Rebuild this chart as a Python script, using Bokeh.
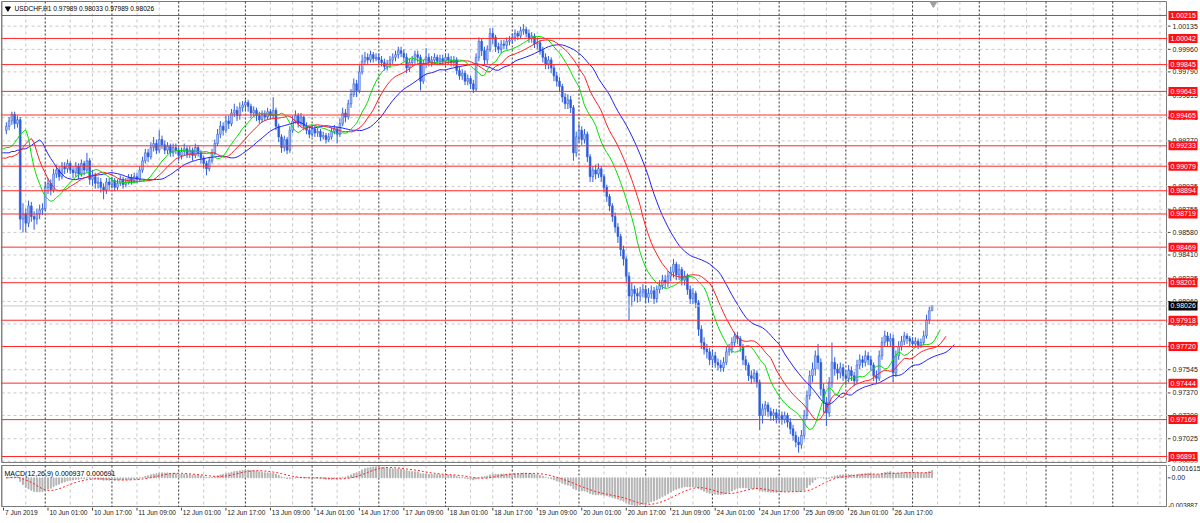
import numpy as np
from bokeh.plotting import figure
from bokeh.models import Range1d, Span, ColumnDataSource, Label, Spacer
from bokeh.layouts import column, row
from bokeh.embed import file_html
from bokeh.resources import INLINE
from bokeh.core.properties import value

symbol = "USDCHF,H1"
first_open = 0.9935

# hourly closes, 7 Jun 2019 10:00 ... 27 Jun 2019 07:00
close = [
    0.9938, 0.9942, 0.9947, 0.9940, 0.9943, 0.9868, 0.9872, 0.9865, 0.9878, 0.9870, 0.9868, 0.9872, 0.9875, 0.9876,
    0.9892, 0.9895, 0.9890, 0.9902, 0.9905, 0.9900, 0.9908, 0.9906, 0.9910, 0.9905, 0.9903, 0.9908, 0.9902, 0.9910, 0.9905, 0.9912, 0.9898, 0.9900, 0.9895, 0.9896, 0.9892, 0.9890, 0.9896, 0.9894,
    0.9897, 0.9892, 0.9895, 0.9898, 0.9894, 0.9896, 0.9899, 0.9897, 0.9900, 0.9898, 0.9905, 0.9912, 0.9918, 0.9915, 0.9922, 0.9925, 0.9920, 0.9928, 0.9924, 0.9920, 0.9923, 0.9918, 0.9922, 0.9920,
    0.9916, 0.9919, 0.9921, 0.9917, 0.9920, 0.9916, 0.9922, 0.9918, 0.9914, 0.9910, 0.9906, 0.9912, 0.9918, 0.9925, 0.9932, 0.9938, 0.9935, 0.9942, 0.9940, 0.9948, 0.9950, 0.9946, 0.9952, 0.9954,
    0.9956, 0.9953, 0.9948, 0.9950, 0.9946, 0.9943, 0.9947, 0.9945, 0.9949, 0.9946, 0.9950, 0.9938, 0.9930, 0.9922, 0.9928, 0.9920, 0.9935, 0.9942, 0.9946, 0.9940, 0.9945, 0.9938, 0.9935, 0.9932,
    0.9936, 0.9933, 0.9934, 0.9930, 0.9931, 0.9928, 0.9930, 0.9934, 0.9936, 0.9932, 0.9940, 0.9948, 0.9945, 0.9955, 0.9962, 0.9970, 0.9965, 0.9979, 0.9987, 0.9990, 0.9988, 0.9992, 0.9989, 0.9990,
    0.9988, 0.9986, 0.9983, 0.9985, 0.9988, 0.9990, 0.9992, 0.9995, 0.9993, 0.9990, 0.9982, 0.9986, 0.9988, 0.9992, 0.9990, 0.9972, 0.9985, 0.9990, 0.9986, 0.9988, 0.9990, 0.9987, 0.9989, 0.9987,
    0.9990, 0.9988, 0.9986, 0.9988, 0.9980, 0.9976, 0.9978, 0.9972, 0.9974, 0.9970, 0.9966, 0.9990, 1.0002, 0.9995, 0.9988, 0.9996, 1.0008, 1.0005, 0.9998, 0.9996, 1.0000, 0.9999, 1.0002, 1.0003,
    1.0005, 1.0008, 1.0006, 1.0010, 1.0011, 1.0008, 1.0004, 1.0006, 1.0000, 1.0001, 0.9995, 0.9990, 0.9985, 0.9988, 0.9982, 0.9976, 0.9972, 0.9968, 0.9960, 0.9955, 0.9958, 0.9952, 0.9918, 0.9930,
    0.9935, 0.9928, 0.9932, 0.9915, 0.9900, 0.9905, 0.9902, 0.9906, 0.9900, 0.9892, 0.9885, 0.9878, 0.9870, 0.9862, 0.9855, 0.9845, 0.9838, 0.9825, 0.9810, 0.9815, 0.9812, 0.9810, 0.9813, 0.9815,
    0.9809, 0.9812, 0.9814, 0.9808, 0.9815, 0.9818, 0.9822, 0.9820, 0.9825, 0.9828, 0.9834, 0.9826, 0.9830, 0.9822, 0.9825, 0.9815, 0.9808, 0.9812, 0.9805, 0.9785, 0.9775, 0.9770, 0.9768, 0.9762,
    0.9765, 0.9760, 0.9758, 0.9756, 0.9760, 0.9768, 0.9770, 0.9775, 0.9780, 0.9778, 0.9772, 0.9762, 0.9758, 0.9750, 0.9748, 0.9752, 0.9745, 0.9720, 0.9725, 0.9728, 0.9723, 0.9720, 0.9722, 0.9718,
    0.9720, 0.9717, 0.9720, 0.9715, 0.9710, 0.9705, 0.9700, 0.9698, 0.9705, 0.9720, 0.9735, 0.9750, 0.9755, 0.9765, 0.9760, 0.9740, 0.9730, 0.9722, 0.9745, 0.9760, 0.9755, 0.9752, 0.9756, 0.9750,
    0.9748, 0.9754, 0.9750, 0.9746, 0.9758, 0.9762, 0.9760, 0.9765, 0.9762, 0.9758, 0.9750, 0.9748, 0.9765, 0.9775, 0.9780, 0.9776, 0.9778, 0.9752, 0.9765, 0.9772, 0.9776, 0.9780, 0.9778, 0.9776,
    0.9774, 0.9776, 0.9773, 0.9775, 0.9780, 0.9792, 0.97989, 0.98026,
]
high = [
    0.9941, 0.9945, 0.9949, 0.9949, 0.9946, 0.9945, 0.9880, 0.9876, 0.9882, 0.9881, 0.9874, 0.9876, 0.9879, 0.9880,
    0.9896, 0.9899, 0.9898, 0.9906, 0.9909, 0.9908, 0.9911, 0.9911, 0.9913, 0.9912, 0.9908, 0.9911, 0.9910, 0.9913, 0.9912, 0.9918, 0.9914, 0.9905, 0.9903, 0.9900, 0.9899, 0.9895, 0.9899, 0.9899,
    0.9900, 0.9899, 0.9898, 0.9901, 0.9900, 0.9899, 0.9902, 0.9902, 0.9903, 0.9903, 0.9908, 0.9915, 0.9921, 0.9921, 0.9926, 0.9930, 0.9928, 0.9935, 0.9931, 0.9927, 0.9926, 0.9925, 0.9925, 0.9925,
    0.9922, 0.9922, 0.9925, 0.9923, 0.9923, 0.9922, 0.9925, 0.9924, 0.9920, 0.9916, 0.9912, 0.9915, 0.9921, 0.9928, 0.9936, 0.9942, 0.9941, 0.9946, 0.9946, 0.9951, 0.9955, 0.9953, 0.9956, 0.9957,
    0.9958, 0.9958, 0.9955, 0.9953, 0.9952, 0.9949, 0.9950, 0.9950, 0.9952, 0.9951, 0.9960, 0.9952, 0.9940, 0.9932, 0.9931, 0.9930, 0.9938, 0.9946, 0.9950, 0.9948, 0.9948, 0.9946, 0.9941, 0.9938,
    0.9939, 0.9939, 0.9937, 0.9936, 0.9934, 0.9933, 0.9933, 0.9937, 0.9939, 0.9938, 0.9944, 0.9952, 0.9951, 0.9958, 0.9966, 0.9974, 0.9973, 0.9984, 0.9992, 0.9994, 0.9993, 0.9995, 0.9994, 0.9993,
    0.9993, 0.9991, 0.9989, 0.9988, 0.9991, 0.9993, 0.9995, 0.9998, 0.9998, 0.9996, 0.9993, 0.9989, 0.9991, 0.9995, 0.9995, 0.9992, 0.9988, 0.9997, 0.9993, 0.9991, 0.9993, 0.9992, 0.9992, 0.9992,
    0.9993, 0.9993, 0.9991, 0.9991, 0.9990, 0.9983, 0.9981, 0.9980, 0.9977, 0.9976, 0.9973, 0.9993, 1.0005, 1.0004, 0.9998, 0.9999, 1.0012, 1.0012, 1.0007, 1.0001, 1.0003, 1.0003, 1.0005, 1.0006,
    1.0008, 1.0011, 1.0010, 1.0013, 1.0015, 1.0013, 1.0011, 1.0009, 1.0008, 1.0005, 1.0003, 0.9998, 0.9993, 0.9991, 0.9990, 0.9985, 0.9979, 0.9975, 0.9970, 0.9963, 0.9962, 0.9961, 0.9954, 0.9934,
    0.9940, 0.9938, 0.9936, 0.9934, 0.9917, 0.9908, 0.9909, 0.9910, 0.9908, 0.9902, 0.9894, 0.9887, 0.9880, 0.9873, 0.9865, 0.9857, 0.9848, 0.9840, 0.9828, 0.9820, 0.9818, 0.9816, 0.9817, 0.9819,
    0.9818, 0.9816, 0.9818, 0.9817, 0.9818, 0.9822, 0.9826, 0.9826, 0.9829, 0.9832, 0.9838, 0.9836, 0.9834, 0.9832, 0.9829, 0.9827, 0.9818, 0.9816, 0.9814, 0.9807, 0.9788, 0.9779, 0.9774, 0.9771,
    0.9769, 0.9768, 0.9763, 0.9762, 0.9764, 0.9772, 0.9774, 0.9779, 0.9783, 0.9783, 0.9780, 0.9774, 0.9765, 0.9760, 0.9754, 0.9755, 0.9754, 0.9747, 0.9729, 0.9731, 0.9730, 0.9726, 0.9725, 0.9725,
    0.9724, 0.9723, 0.9723, 0.9722, 0.9718, 0.9713, 0.9708, 0.9704, 0.9709, 0.9724, 0.9739, 0.9754, 0.9760, 0.9769, 0.9774, 0.9763, 0.9744, 0.9734, 0.9749, 0.9775, 0.9764, 0.9759, 0.9760, 0.9759,
    0.9754, 0.9758, 0.9757, 0.9753, 0.9762, 0.9766, 0.9765, 0.9769, 0.9768, 0.9765, 0.9760, 0.9754, 0.9769, 0.9779, 0.9784, 0.9783, 0.9782, 0.9781, 0.9769, 0.9776, 0.9780, 0.9783, 0.9782, 0.9780,
    0.9779, 0.9779, 0.9778, 0.9778, 0.9784, 0.9796, 0.9802, 0.98033,
]
low = [
    0.9932, 0.9935, 0.9939, 0.9936, 0.9937, 0.9860, 0.9858, 0.9858, 0.9862, 0.9866, 0.9860, 0.9864, 0.9868, 0.9871,
    0.9874, 0.9887, 0.9886, 0.9888, 0.9899, 0.9897, 0.9898, 0.9902, 0.9903, 0.9902, 0.9899, 0.9900, 0.9898, 0.9900, 0.9901, 0.9903, 0.9894, 0.9893, 0.9891, 0.9891, 0.9888, 0.9883, 0.9887, 0.9890,
    0.9891, 0.9889, 0.9890, 0.9893, 0.9891, 0.9892, 0.9894, 0.9894, 0.9895, 0.9895, 0.9896, 0.9903, 0.9910, 0.9911, 0.9913, 0.9919, 0.9917, 0.9918, 0.9921, 0.9917, 0.9917, 0.9915, 0.9915, 0.9917,
    0.9912, 0.9913, 0.9916, 0.9914, 0.9914, 0.9912, 0.9914, 0.9915, 0.9910, 0.9906, 0.9901, 0.9904, 0.9910, 0.9916, 0.9923, 0.9929, 0.9931, 0.9933, 0.9936, 0.9938, 0.9945, 0.9942, 0.9943, 0.9949,
    0.9950, 0.9949, 0.9944, 0.9945, 0.9942, 0.9940, 0.9941, 0.9942, 0.9943, 0.9943, 0.9944, 0.9935, 0.9926, 0.9918, 0.9919, 0.9917, 0.9918, 0.9933, 0.9940, 0.9937, 0.9938, 0.9935, 0.9932, 0.9929,
    0.9930, 0.9930, 0.9930, 0.9927, 0.9928, 0.9925, 0.9926, 0.9928, 0.9932, 0.9925, 0.9930, 0.9938, 0.9941, 0.9943, 0.9952, 0.9960, 0.9960, 0.9963, 0.9977, 0.9984, 0.9985, 0.9986, 0.9986, 0.9987,
    0.9985, 0.9983, 0.9980, 0.9980, 0.9982, 0.9985, 0.9987, 0.9989, 0.9990, 0.9987, 0.9978, 0.9979, 0.9983, 0.9985, 0.9986, 0.9965, 0.9970, 0.9982, 0.9983, 0.9983, 0.9985, 0.9984, 0.9984, 0.9984,
    0.9985, 0.9985, 0.9983, 0.9983, 0.9977, 0.9973, 0.9973, 0.9969, 0.9969, 0.9966, 0.9963, 0.9964, 0.9987, 0.9991, 0.9984, 0.9985, 0.9994, 1.0000, 0.9994, 0.9993, 0.9993, 0.9996, 0.9996, 0.9999,
    1.0000, 1.0002, 1.0003, 1.0004, 1.0007, 1.0005, 1.0001, 1.0001, 0.9997, 0.9996, 0.9992, 0.9986, 0.9981, 0.9981, 0.9978, 0.9972, 0.9968, 0.9964, 0.9956, 0.9951, 0.9951, 0.9948, 0.9912, 0.9915,
    0.9926, 0.9924, 0.9925, 0.9911, 0.9896, 0.9896, 0.9898, 0.9899, 0.9896, 0.9888, 0.9881, 0.9874, 0.9866, 0.9858, 0.9850, 0.9840, 0.9833, 0.9820, 0.9792, 0.9802, 0.9806, 0.9805, 0.9806, 0.9809,
    0.9805, 0.9805, 0.9808, 0.9804, 0.9805, 0.9812, 0.9815, 0.9816, 0.9817, 0.9821, 0.9824, 0.9822, 0.9822, 0.9818, 0.9818, 0.9811, 0.9804, 0.9804, 0.9801, 0.9780, 0.9770, 0.9766, 0.9763, 0.9758,
    0.9758, 0.9756, 0.9754, 0.9753, 0.9753, 0.9758, 0.9765, 0.9767, 0.9772, 0.9774, 0.9768, 0.9758, 0.9754, 0.9746, 0.9744, 0.9745, 0.9741, 0.9709, 0.9714, 0.9720, 0.9719, 0.9716, 0.9716, 0.9714,
    0.9715, 0.9713, 0.9714, 0.9711, 0.9706, 0.9701, 0.9696, 0.9692, 0.9695, 0.9702, 0.9717, 0.9732, 0.9745, 0.9750, 0.9755, 0.9735, 0.9722, 0.9712, 0.9719, 0.9741, 0.9750, 0.9747, 0.9748, 0.9746,
    0.9743, 0.9745, 0.9746, 0.9742, 0.9744, 0.9755, 0.9756, 0.9757, 0.9758, 0.9754, 0.9746, 0.9744, 0.9746, 0.9762, 0.9772, 0.9772, 0.9772, 0.9745, 0.9749, 0.9762, 0.9769, 0.9773, 0.9774, 0.9772,
    0.9771, 0.9771, 0.9770, 0.9771, 0.9773, 0.9778, 0.9789, 0.97989,
]

# Alligator values already on the chart before the first bar (read from the left edge)
jaw_head = [0.9918, 0.9918, 0.9918, 0.9918, 0.9919, 0.9919, 0.9920, 0.9920, 0.9921, 0.9921]
teeth_head = [0.9914, 0.9914, 0.9914, 0.9915, 0.9915, 0.9916, 0.9917]
lips_head = [0.9921, 0.9921, 0.9922, 0.9922, 0.9923]

levels = [1.00215, 1.00042, 0.99845, 0.99643, 0.99465, 0.99233, 0.99079, 0.98894,
          0.98719, 0.98469, 0.98201, 0.97918, 0.97720, 0.97444, 0.97169, 0.96891]
last_price = 0.98026
price_ticks = [1.00135, 0.99960, 0.99790, 0.99615, 0.99445, 0.99270, 0.99095, 0.98925, 0.98755, 0.98580,
               0.98410, 0.98235, 0.98060, 0.97890, 0.97720, 0.97545, 0.97370, 0.97200, 0.97025, 0.96855]
time_tick_bars = [-1, 15, 31, 47, 63, 79, 95, 111, 127, 143, 159, 175, 191, 207, 223, 239, 255, 271, 287, 303, 319]
time_tick_labels = ["7 Jun 2019", "10 Jun 01:00", "10 Jun 17:00", "11 Jun 09:00", "12 Jun 01:00", "12 Jun 17:00",
                    "13 Jun 09:00", "14 Jun 01:00", "14 Jun 17:00", "17 Jun 09:00", "18 Jun 01:00", "18 Jun 17:00",
                    "19 Jun 09:00", "20 Jun 01:00", "20 Jun 17:00", "21 Jun 09:00", "24 Jun 01:00", "24 Jun 17:00",
                    "25 Jun 09:00", "26 Jun 01:00", "26 Jun 17:00"]
day_start_bars = [14, 38, 62, 86, 110, 134, 158, 182, 206, 230, 254, 278, 302, 326, 350, 374, 398]
macd_label = "MACD(12,26,9) 0.000937 0.000691"
macd_max = 0.001615
macd_min = -0.003887

# ---------------------------------------------------------------------------
N = len(close)
xs = list(range(N))
open_ = [first_open] + close[:-1]
bull = [c >= o for o, c in zip(open_, close)]
src = ColumnDataSource(dict(
    x=xs, o=open_, h=high, l=low, c=close,
    top=[max(o, c) for o, c in zip(open_, close)],
    bot=[min(o, c) for o, c in zip(open_, close)],
    fill=["#b3c6f4" if b else "#2c5ad8" for b in bull],
))

med = (np.array(high) + np.array(low)) / 2.0


def smma(series, n, seed):
    out, v = [], seed
    for m in series:
        v = (v * (n - 1) + m) / n
        out.append(v)
    return out


def alligator(head, n, shift):
    vals = list(head) + smma(med, n, head[-1])
    xx = list(range(shift - len(head), shift)) + [i + shift for i in range(N)]
    return xx, vals


jaw_x, jaw_v = alligator(jaw_head, 13, 8)
teeth_x, teeth_v = alligator(teeth_head, 8, 5)
lips_x, lips_v = alligator(lips_head, 5, 3)

c_arr = np.array(close)


def ema(arr, n):
    k = 2.0 / (n + 1)
    out = [arr[0]]
    for v in arr[1:]:
        out.append(out[-1] + k * (v - out[-1]))
    return np.array(out)


macd = ema(c_arr, 12) - ema(c_arr, 26)
signal = [float(np.mean(macd[max(0, i - 8):i + 1])) for i in range(N)]

# ---------------------------------------------------------------------------
FONT = "Liberation Sans"
FW, RW = 1166, 33
MH, SH, TH = 461, 42, 16
X0, X1 = -1.73, 417.7
xr = Range1d(X0, X1)
Y0, Y1 = 0.968458, 1.003205
yr_main = Range1d(Y0, Y1)
yr_macd = Range1d(macd_min, macd_max)


def fig(fw, fh, x_range, y_range, left=0, top=0, bottom=0):
    f = figure(frame_width=fw, frame_height=fh, x_range=x_range, y_range=y_range,
               x_axis_location=None, y_axis_location=None, toolbar_location=None,
               output_backend="svg", min_border=0, min_border_top=top, min_border_bottom=bottom,
               min_border_left=left, min_border_right=0,
               background_fill_color="white", border_fill_color="white")
    f.xgrid.visible = False
    f.ygrid.visible = False
    f.outline_line_color = None
    return f


p = fig(FW, MH, xr, yr_main, left=1, top=1, bottom=3)
p2 = fig(FW, SH, xr, yr_macd, left=1)
pt = fig(FW, TH, xr, Range1d(0, TH), left=1)
pr = fig(RW, MH, Range1d(0, RW), yr_main, top=1, bottom=3)
pr2 = fig(RW, SH, Range1d(0, RW), yr_macd)
p.outline_line_color = "#7a7a7a"
p2.outline_line_color = "#7a7a7a"

# horizontal price grid
for t in price_ticks:
    p.add_layout(Span(location=t, dimension="width", line_color="#c8c8c8",
                      line_dash="3 3", line_width=1, level="underlay"))

# vertical grid + day separators in both panes
grid_bars = [b for b in range(7, 418, 8) if min(abs(b - s) for s in day_start_bars) > 1.5]
for f in (p, p2):
    for b in grid_bars:
        f.add_layout(Span(location=b, dimension="height", line_color="#c8c8c8",
                          line_dash="3 3", line_width=1, level="underlay"))
    for s in day_start_bars:
        f.add_layout(Span(location=s, dimension="height", line_color="#303030",
                          line_dash="2 2", line_width=1, level="underlay"))
    f.add_layout(Span(location=X0, dimension="height", line_color="#8a8a8a", line_width=2))

# candles
p.segment(x0="x", y0="l", x1="x", y1="h", source=src, line_color="#2f5fd8", line_width=1)
p.vbar(x="x", width=0.65, top="top", bottom="bot", source=src,
       fill_color="fill", line_color="#2f5fd8", line_width=0.6)

# alligator
p.line(jaw_x, jaw_v, line_color="#2020ff", line_width=1)
p.line(teeth_x, teeth_v, line_color="#ff2020", line_width=1)
p.line(lips_x, lips_v, line_color="#00e000", line_width=1)

# horizontal levels
for lv in levels:
    p.add_layout(Span(location=lv, dimension="width", line_color="#ff2a2a", line_width=1))
p.add_layout(Span(location=last_price, dimension="width", line_color="#c8c8c8", line_width=1))

# title + markers
p.scatter([X0 + 2.3], [Y1 - 0.00052], marker="inverted_triangle", size=5, color="#000000")
p.scatter([N - 0.5], [Y1 - 0.00015], marker="inverted_triangle", size=7, color="#a0a0a0")
p.add_layout(Label(x=X0, y=Y1 - 0.00052, x_offset=13,
                   text=f"{symbol}  {open_[-1]:.5f} {high[-1]:.5f} {low[-1]:.5f} {close[-1]:.5f}",
                   text_font=FONT, text_font_size="6.6px", text_color="#000000",
                   text_baseline="middle"))

# MACD
p2.vbar(x=xs, top=list(macd), bottom=0, width=0.35, color="#b4b4b4")
p2.line(xs, signal, line_color="#ff2020", line_dash="2 2", line_width=1)
p2.add_layout(Label(x=X0, y=macd_max, x_offset=3, y_offset=-8, text=macd_label,
                    text_font=FONT, text_font_size="7px", text_color="#000000",
                    text_baseline="middle"))

# ---- price scale (right strip) ----
px_per_price = MH / (Y1 - Y0)
box_h = 9 / px_per_price
pr.segment(x0=[0] * len(price_ticks), x1=[3] * len(price_ticks), y0=price_ticks, y1=price_ticks,
           line_color="#404040", line_width=1)
inner = [t for t in price_ticks if t > Y0 + 5 / px_per_price]
edge = [t for t in price_ticks if t <= Y0 + 5 / px_per_price]
pr.text(x=[5] * len(inner), y=inner, text=[f"{t:.5f}" for t in inner],
        text_font=value(FONT), text_font_size="7px", text_color="#202020", text_baseline="middle")
pr.text(x=[5] * len(edge), y=[Y0] * len(edge), text=[f"{t:.5f}" for t in edge],
        text_font=value(FONT), text_font_size="7px", text_color="#202020", text_baseline="bottom")
pr.rect(x=[15.5] * len(levels), y=levels, width=29, height=box_h,
        fill_color="#ff1010", line_color=None)
pr.text(x=[3] * len(levels), y=levels, text=[f"{lv:.5f}" for lv in levels],
        text_font=value(FONT), text_font_size="7px", text_color="white", text_baseline="middle")
pr.rect(x=[15.5], y=[last_price], width=29, height=box_h, fill_color="#000000", line_color=None)
pr.text(x=[3], y=[last_price], text=[f"{last_price:.5f}"],
        text_font=value(FONT), text_font_size="7px", text_color="white", text_baseline="middle")

# ---- MACD scale ----
pr2.segment(x0=[0, 0, 0], x1=[3, 3, 3], y0=[macd_max, 0, macd_min], y1=[macd_max, 0, macd_min],
            line_color="#404040", line_width=1)
pr2.text(x=[4], y=[macd_max], text=[f"{macd_max:.6f}"], text_font=value(FONT), text_font_size="7px",
         text_color="#202020", text_baseline="top")
pr2.text(x=[4], y=[0], text=["0.00"], text_font=value(FONT), text_font_size="7px",
         text_color="#202020", text_baseline="middle")
pr2.text(x=[0.5], y=[macd_min], text=[f"{macd_min:.6f}"], text_font=value(FONT), text_font_size="6.6px",
         text_color="#202020", text_baseline="bottom")

# ---- time scale ----
pt.segment(x0=time_tick_bars, x1=time_tick_bars, y0=[TH] * len(time_tick_bars),
           y1=[TH - 3] * len(time_tick_bars), line_color="#404040", line_width=1)
pt.text(x=[b + 0.5 for b in time_tick_bars], y=[TH - 5] * len(time_tick_bars), text=time_tick_labels,
        text_font=value(FONT), text_font_size="6.6px", text_color="#202020", text_baseline="middle")

layout = column(row(p, pr, spacing=0), row(p2, pr2, spacing=0),
                row(pt, Spacer(width=RW, height=TH), spacing=0), spacing=0)
open("out.html", "w").write(file_html(layout, INLINE))
